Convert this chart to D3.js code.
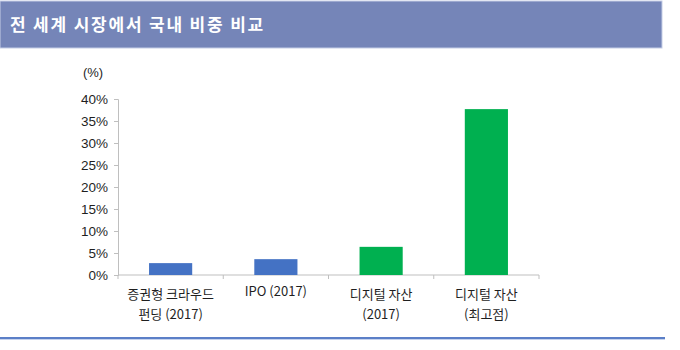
<!DOCTYPE html>
<html>
<head>
<meta charset="utf-8">
<script src="https://cdn.jsdelivr.net/npm/d3@7"></script>
<style>
  body { margin: 0; background: #fff; }
  svg { display: block; font-family: "Liberation Sans", Arial, "Noto Sans CJK KR", sans-serif; }
</style>
</head>
<body>
<svg id="chart" width="680" height="350"></svg>
<script>
// Share of the domestic market in the global market, by category
const categories = [
  ["증권형 크라우드", "펀딩 (2017)"],
  ["IPO (2017)"],
  ["디지털 자산", "(2017)"],
  ["디지털 자산", "(최고점)"]
];
const values = [2.7, 3.6, 6.4, 37.7];
const barColors = ["#4472c4", "#4472c4", "#00b050", "#00b050"];
const yTicks = [0, 5, 10, 15, 20, 25, 30, 35, 40];
const title = "전 세계 시장에서 국내 비중 비교";
const unitLabel = "(%)";

const svg = d3.select("#chart");

// Header band
svg.append("rect")
  .attr("x", 0).attr("y", 1)
  .attr("width", 662).attr("height", 47)
  .attr("fill", "#7585b8")
  .attr("stroke", "#c5cde6").attr("stroke-width", 1);
svg.append("text")
  .attr("x", 10).attr("y", 31)
  .attr("fill", "#fff")
  .attr("font-size", 17)
  .attr("letter-spacing", 1.8)
  .attr("font-weight", "bold")
  .attr("font-family", "'Noto Sans CJK KR', sans-serif")
  .text(title);

// Scales
const x = d3.scaleBand()
  .domain(d3.range(categories.length))
  .range([118, 539])
  .paddingInner(0.59)
  .paddingOuter(0.295);
const band = d3.scaleBand().domain(d3.range(categories.length)).range([118, 539]);
const y = d3.scaleLinear().domain([0, 40]).range([275, 99]);

const axisColor = "#bfbfbf";
const textColor = "#1f1f1f";

// Y axis
const yAxis = svg.append("g")
  .attr("transform", "translate(118,0)")
  .call(d3.axisLeft(y).tickValues(yTicks).tickSize(4).tickPadding(6)
    .tickFormat(d => d + "%"));
yAxis.select(".domain").attr("stroke", axisColor);
yAxis.selectAll(".tick line").attr("stroke", axisColor);
yAxis.selectAll(".tick text")
  .attr("fill", textColor)
  .attr("font-size", 13.5)
  .attr("font-family", "'Liberation Sans', Arial, sans-serif");

svg.append("text")
  .attr("x", 93).attr("y", 77)
  .attr("text-anchor", "middle")
  .attr("fill", textColor)
  .attr("font-size", 13)
  .text(unitLabel);

// X axis baseline with boundary ticks
const xAxisG = svg.append("g");
xAxisG.append("line")
  .attr("x1", 118).attr("x2", 539)
  .attr("y1", y(0)).attr("y2", y(0))
  .attr("stroke", axisColor);
const bounds = d3.range(categories.length + 1).map(i =>
  i < categories.length ? band(i) : band(i - 1) + band.bandwidth());
xAxisG.selectAll("line.tick")
  .data(bounds)
  .join("line")
  .attr("class", "tick")
  .attr("x1", d => d).attr("x2", d => d)
  .attr("y1", y(0)).attr("y2", y(0) + 4)
  .attr("stroke", axisColor);

// Bars
svg.append("g").selectAll("rect")
  .data(values)
  .join("rect")
  .attr("x", (d, i) => x(i))
  .attr("width", x.bandwidth())
  .attr("y", d => y(d))
  .attr("height", d => y(0) - y(d))
  .attr("fill", (d, i) => barColors[i]);

// Category labels
const labelG = svg.append("g")
  .attr("font-size", 13)
  .attr("fill", textColor)
  .attr("text-anchor", "middle");
categories.forEach((lines, i) => {
  const cx = band(i) + band.bandwidth() / 2;
  const top = lines.length === 1 ? 296 : 299;
  lines.forEach((ln, j) => {
    labelG.append("text")
      .attr("x", cx)
      .attr("y", top + j * 20)
      .attr("font-family", "'Noto Sans CJK KR', 'Liberation Sans', sans-serif")
      .text(ln);
  });
});

// Bottom rule
svg.append("rect")
  .attr("x", 0).attr("y", 337)
  .attr("width", 665).attr("height", 2)
  .attr("fill", "#5b7fc7");
svg.append("line")
  .attr("x1", 0).attr("x2", 665)
  .attr("y1", 339.5).attr("y2", 339.5)
  .attr("stroke", "#c6d3ee");
</script>
</body>
</html>
